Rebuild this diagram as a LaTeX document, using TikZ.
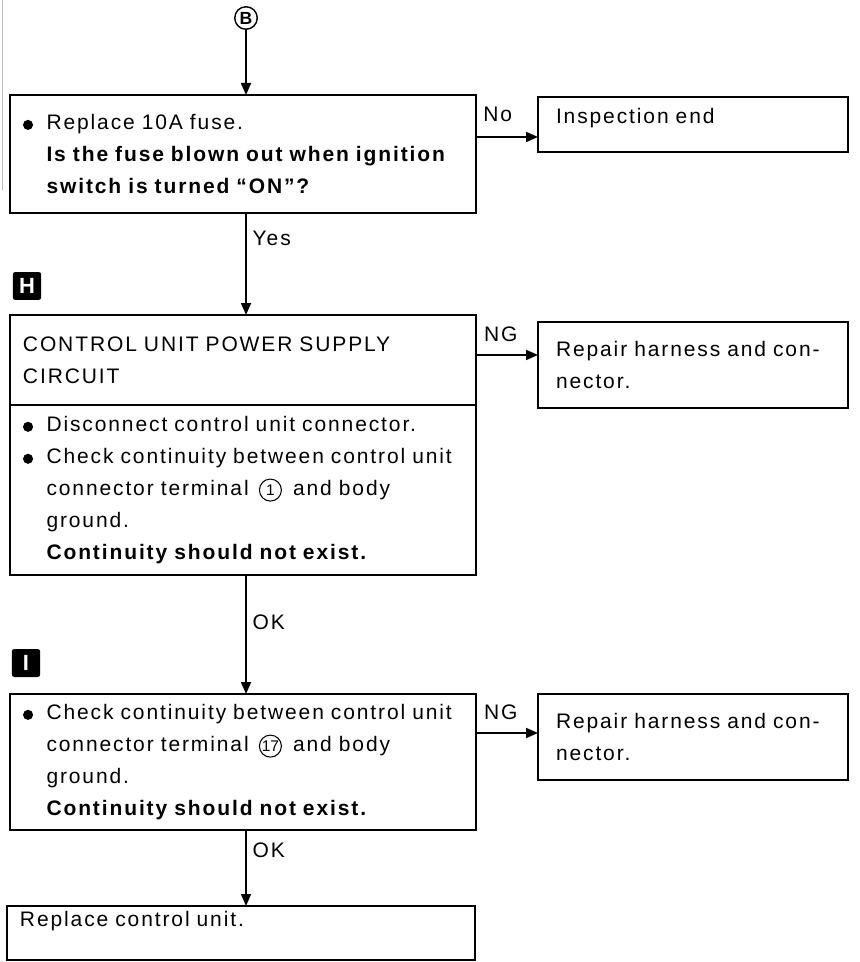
\documentclass[tikz,border=0pt]{standalone}
\usepackage{fontspec}
\setmainfont{Liberation Sans}[LetterSpace=9, WordSpace=1.55]
\usepackage{tikz}
\usetikzlibrary{arrows.meta,positioning,calc}

\newcommand\basefont{\fontsize{11.95pt}{18.2pt}\selectfont}
\newcommand\bul{\makebox[1.12em][l]{\tikz[baseline=0pt]\fill (0.25em,0.22em) circle (0.24em);}}
\newcommand\ind{\hspace*{1.12em}}
\newcommand\cnum[1]{\hspace{0.15em}\tikz[baseline=(cn.base)]\node[draw, circle, line width=0.6pt, inner sep=0pt, minimum size=0.44cm, font=\fontsize{8.8pt}{8.8pt}\selectfont\addfontfeature{LetterSpace=0}] (cn) {#1};\hspace{0.2em}}

\begin{document}
\begin{tikzpicture}[x=0.02cm, y=-0.02cm,
    every node/.style={font=\basefont},
    box/.style={draw, line width=1.1pt, anchor=north west, align=left, inner xsep=0.26cm, outer sep=0pt},
    mainbox/.style={box, text width=8.8cm},
    sidebox/.style={box, inner xsep=0.36cm, text width=5.48cm},
    marker/.style={fill=black, text=white, rounded corners=1.5pt, minimum width=0.57cm, minimum height=0.56cm, inner sep=0pt, font=\bfseries\fontsize{12.5pt}{12.5pt}\selectfont},
    arrow/.style={-{Triangle[length=0.24cm,width=0.2cm]}, line width=1pt}
]
    \useasboundingbox (0,0) rectangle (859,962);
    \draw[gray!55, line width=0.5pt] (2,0) -- (2,190);

    \node[draw, circle, line width=0.8pt, minimum size=0.45cm, inner sep=0pt, font=\bfseries\fontsize{10pt}{10pt}\selectfont] (bmark) at (246,18) {B};

    \node[mainbox, minimum height=2.36cm] (fuse) at (10,95) {\bul Replace 10A fuse.\\ \ind\textbf{Is the fuse blown out when ignition}\\ \ind\textbf{switch is turned “ON”?}};
    \node[sidebox, inner ysep=0.1cm, text height=0.44cm, text depth=0.46cm] (endbox) at (538,97) {Inspection end};

    \node[marker] (hmark) at (27,286) {H};
    \node[mainbox, minimum height=1.8cm] (hhead) at (10,315) {CONTROL UNIT POWER SUPPLY\\CIRCUIT};
    \node[mainbox, minimum height=3.4cm] (hbody) at (hhead.south west) {\bul Disconnect control unit connector.\\ \bul Check continuity between control unit\\ \ind connector terminal \cnum{1} and body\\ \ind ground.\\ \ind\textbf{Continuity should not exist.}};
    \node[sidebox, minimum height=1.72cm] (rep1) at (538,322) {Repair harness and con-\\nector.};

    \node[marker] (imark) at (26,663) {I};
    \node[mainbox, minimum height=2.72cm] (ichk) at (10,694) {\bul Check continuity between control unit\\ \ind connector terminal \cnum{17} and body\\ \ind ground.\\ \ind\textbf{Continuity should not exist.}};
    \node[sidebox, minimum height=1.72cm] (rep2) at (538,694) {Repair harness and con-\\nector.};

    \node[mainbox, text width=8.84cm, inner ysep=0.1cm, text height=0.3cm, text depth=0.58cm] (final) at (7,906) {Replace control unit.};

    \draw[arrow] (bmark) -- (bmark |- fuse.north);
    \coordinate (noin) at ([yshift=-0.25cm]endbox.west);
    \draw[arrow] (fuse.east |- noin) -- node[pos=0.35, above=0.18cm] {No} (noin);
    \draw[arrow] (bmark |- fuse.south) -- node[pos=0.25, right] {Yes} (bmark |- hhead.north);
    \coordinate (ngA) at ([yshift=0.2cm]rep1.west);
    \draw[arrow] (hhead.east |- ngA) -- node[pos=0.4, above=0.14cm] {NG} (ngA);
    \draw[arrow] (bmark |- hbody.south) -- node[pos=0.4, right] {OK} (bmark |- ichk.north);
    \coordinate (ngB) at ([yshift=0.08cm]rep2.west);
    \draw[arrow] (ichk.east |- ngB) -- node[pos=0.4, above=0.14cm] {NG} (ngB);
    \draw[arrow] (bmark |- ichk.south) -- node[pos=0.27, right] {OK} (bmark |- final.north);
\end{tikzpicture}
\end{document}
